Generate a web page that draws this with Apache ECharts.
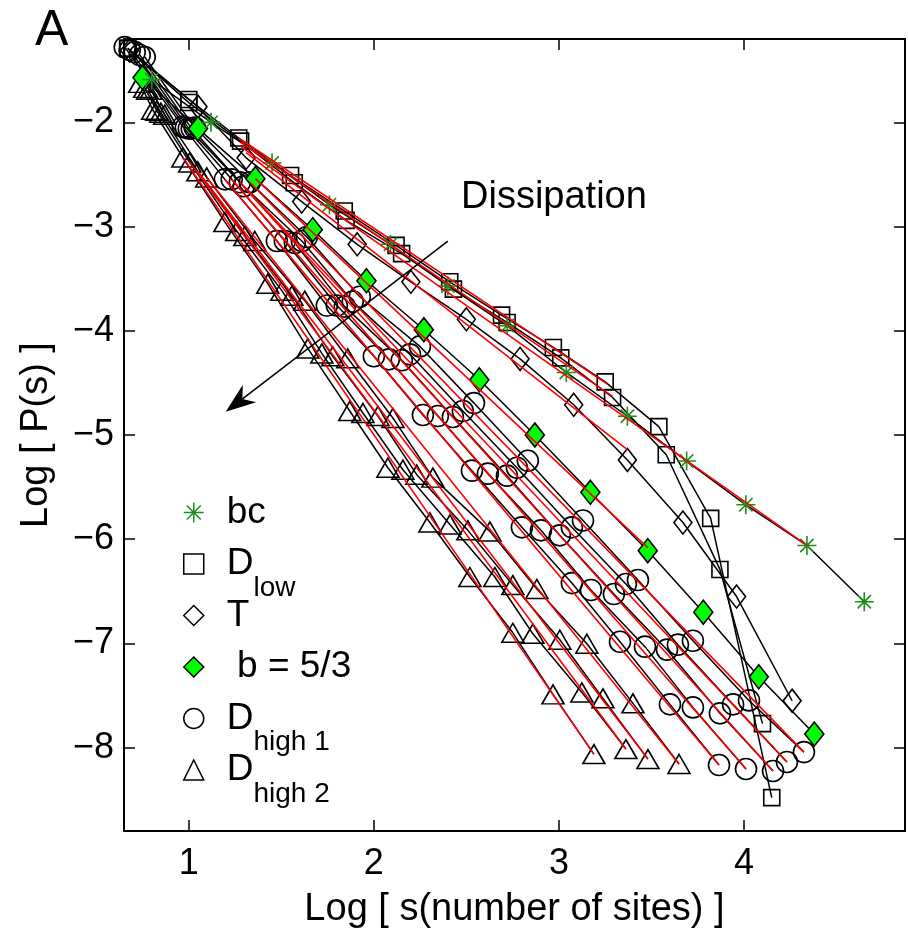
<!DOCTYPE html>
<html>
<head>
<meta charset="utf-8">
<script src="https://cdn.jsdelivr.net/npm/echarts@6/dist/echarts.min.js"></script>
<style>
html,body{margin:0;padding:0;background:#fff;}
#chart{width:908px;height:934px;}
</style>
</head>
<body>
<div id="chart"></div>
<script>
// ---------- data ----------
const xTicks = [1, 2, 3, 4];
const yTicks = [-8, -7, -6, -5, -4, -3, -2];

const bcX = [0.80,1.12,1.45,1.76,2.09,2.40,2.72,3.04,3.37,3.69,4.01,4.34,4.65];
const bcY = [-1.59,-2.00,-2.39,-2.79,-3.17,-3.57,-3.95,-4.40,-4.82,-5.25,-5.67,-6.06,-6.60];

const dLowAX = [0.67,1.00,1.27,1.55,1.84,2.12,2.41,2.69,2.97,3.25,3.54,3.82,4.15];
const dLowAY = [-1.29,-1.78,-2.15,-2.51,-2.85,-3.18,-3.53,-3.85,-4.16,-4.49,-4.92,-5.80,-8.48];
const dLowBX = [0.67,1.00,1.28,1.57,1.85,2.15,2.43,2.72,3.01,3.29,3.58,3.87,4.10];
const dLowBY = [-1.29,-1.81,-2.18,-2.58,-2.94,-3.26,-3.60,-3.92,-4.26,-4.64,-5.19,-6.29,-7.77];

const tLowX = [0.68,1.05,1.31,1.61,1.91,2.20,2.50,2.79,3.08,3.37,3.67,3.96,4.26];
const tLowY = [-1.31,-1.85,-2.34,-2.76,-3.17,-3.53,-3.89,-4.27,-4.71,-5.24,-5.84,-6.55,-7.55];

const b53X = [0.75,1.05,1.36,1.67,1.96,2.27,2.57,2.87,3.17,3.48,3.78,4.08,4.38];
const b53Y = [-1.57,-2.06,-2.54,-3.03,-3.52,-3.99,-4.47,-5.00,-5.55,-6.11,-6.70,-7.32,-7.87];

const c1X = [0.654,0.968,1.195,1.476,1.746,2.000,2.265,2.530,2.800,3.070,3.330,3.600,3.865];
const c1Y = [-1.278,-2.041,-2.547,-3.138,-3.758,-4.245,-4.808,-5.342,-5.886,-6.421,-6.984,-7.585,-8.167];
const c2X = [0.681,0.984,1.232,1.519,1.800,2.081,2.346,2.616,2.903,3.173,3.465,3.724,4.011];
const c2Y = [-1.306,-2.050,-2.547,-3.138,-3.758,-4.274,-4.818,-5.371,-5.915,-6.487,-7.031,-7.614,-8.205];
const c3X = [0.708,1.000,1.276,1.573,1.843,2.151,2.427,2.719,3.005,3.297,3.584,3.870,4.157];
const c3Y = [-1.325,-2.060,-2.575,-3.157,-3.768,-4.283,-4.827,-5.390,-5.963,-6.526,-7.060,-7.671,-8.224];
const c4X = [0.735,1.016,1.297,1.611,1.886,2.195,2.481,2.773,3.070,3.362,3.643,3.941,4.232];
const c4Y = [-1.354,-2.060,-2.613,-3.138,-3.720,-4.226,-4.770,-5.314,-5.886,-6.430,-7.012,-7.585,-8.138];
const c5X = [0.762,1.032,1.330,1.638,1.924,2.249,2.541,2.832,3.130,3.427,3.724,4.027,4.324];
const c5Y = [-1.373,-2.050,-2.575,-3.100,-3.673,-4.150,-4.694,-5.247,-5.820,-6.392,-6.974,-7.547,-8.043];

const t1X = [0.735,0.805,0.968,1.195,1.427,1.643,1.870,2.076,2.303,2.519,2.751,2.968,3.189];
const t1Y = [-1.621,-1.879,-2.337,-2.957,-3.548,-4.169,-4.770,-5.314,-5.839,-6.363,-6.898,-7.489,-8.062];
const t2X = [0.762,0.827,1.005,1.259,1.503,1.719,1.941,2.157,2.411,2.654,2.859,3.124,3.362];
const t2Y = [-1.669,-1.888,-2.384,-3.043,-3.615,-4.217,-4.789,-5.333,-5.858,-6.363,-6.907,-7.470,-8.014];
const t3X = [0.778,0.849,1.049,1.303,1.557,1.778,2.022,2.232,2.508,2.751,3.005,3.238,3.481];
const t3Y = [-1.688,-1.907,-2.470,-3.091,-3.663,-4.245,-4.818,-5.381,-5.915,-6.440,-6.965,-7.527,-8.110];
const t4X = [0.795,0.870,1.097,1.357,1.627,1.859,2.103,2.319,2.627,2.881,3.151,3.400,3.649];
const t4Y = [-1.688,-1.926,-2.528,-3.138,-3.711,-4.264,-4.837,-5.409,-5.925,-6.478,-7.003,-7.575,-8.157];

// red fitted lines: [start, end]
const fitBcX = [1.28, 4.34];   const fitBcY = [-2.23, -6.06];
const fitDaX = [1.27, 3.26];   const fitDaY = [-2.15, -4.51];
const fitDbX = [1.28, 3.29];   const fitDbY = [-2.19, -4.63];
const fitTX  = [1.31, 3.37];   const fitTY  = [-2.29, -5.14];
const fitGX  = [1.36, 3.48];   const fitGY  = [-2.54, -6.08];
const fitC1X = [1.195, 3.865]; const fitC1Y = [-2.547, -8.167];
const fitC2X = [1.232, 4.011]; const fitC2Y = [-2.547, -8.205];
const fitC3X = [1.276, 4.157]; const fitC3Y = [-2.575, -8.224];
const fitC4X = [1.297, 4.232]; const fitC4Y = [-2.613, -8.138];
const fitC5X = [1.330, 4.324]; const fitC5Y = [-2.575, -8.043];
const fitT1X = [0.968, 3.189]; const fitT1Y = [-2.337, -8.062];
const fitT2X = [1.005, 3.362]; const fitT2Y = [-2.384, -8.014];
const fitT3X = [1.049, 3.481]; const fitT3Y = [-2.470, -8.110];
const fitT4X = [1.097, 3.649]; const fitT4Y = [-2.528, -8.157];

// annotation arrow ("Dissipation")
const arrowFrom = [2.40, -3.14];
const arrowTo   = [1.264, -4.69];

// ---------- chart ----------
const FONT = '"Liberation Sans", Arial, Helvetica, sans-serif';
const STAR = 'path://M10,0L10,20M0,10L20,10M3,3L17,17M3,17L17,3';
const ARROW = 'path://M0,0L11,30L0,21L-11,30Z';
const GREEN = '#1f8c1f';
const NONE = 'rgba(0,0,0,0)';

function pts(xs, ys) { return xs.map((x, i) => [x, ys[i]]); }

function dataSeries(name, xs, ys, symbol, size, fill, border) {
  return {
    name: name, type: 'line', data: pts(xs, ys),
    symbol: symbol, symbolSize: size, showSymbol: true, clip: false,
    lineStyle: { color: '#000', width: 1.5 },
    itemStyle: { color: fill, borderColor: border, borderWidth: 1.6 },
    emphasis: { disabled: true }, silent: true, z: 2, animation: false
  };
}
function fitSeries(xs, ys) {
  return {
    name: 'fit', type: 'line', data: pts(xs, ys), symbol: 'none', clip: false,
    lineStyle: { color: '#ff0000', width: 1.6 }, emphasis: { disabled: true },
    silent: true, z: 4, animation: false
  };
}

const series = [
  dataSeries('Dh2', t1X, t1Y, 'triangle', [22, 19], NONE, '#000'),
  dataSeries('Dh2', t2X, t2Y, 'triangle', [22, 19], NONE, '#000'),
  dataSeries('Dh2', t3X, t3Y, 'triangle', [22, 19], NONE, '#000'),
  dataSeries('Dh2', t4X, t4Y, 'triangle', [22, 19], NONE, '#000'),
  dataSeries('Dh1', c1X, c1Y, 'circle', 21, NONE, '#000'),
  dataSeries('Dh1', c2X, c2Y, 'circle', 21, NONE, '#000'),
  dataSeries('Dh1', c3X, c3Y, 'circle', 21, NONE, '#000'),
  dataSeries('Dh1', c4X, c4Y, 'circle', 21, NONE, '#000'),
  dataSeries('Dh1', c5X, c5Y, 'circle', 21, NONE, '#000'),
  dataSeries('Tlow', tLowX, tLowY, 'diamond', [18, 23], NONE, '#000'),
  dataSeries('Dlow', dLowAX, dLowAY, 'rect', 16, NONE, '#000'),
  dataSeries('Dlow', dLowBX, dLowBY, 'rect', 16, NONE, '#000'),
  dataSeries('b53', b53X, b53Y, 'diamond', [19, 24], '#00ff00', '#000'),
  dataSeries('bc', bcX, bcY, STAR, 19, NONE, GREEN),
  fitSeries(fitBcX, fitBcY), fitSeries(fitDaX, fitDaY), fitSeries(fitDbX, fitDbY),
  fitSeries(fitTX, fitTY), fitSeries(fitGX, fitGY),
  fitSeries(fitC1X, fitC1Y), fitSeries(fitC2X, fitC2Y), fitSeries(fitC3X, fitC3Y),
  fitSeries(fitC4X, fitC4Y), fitSeries(fitC5X, fitC5Y),
  fitSeries(fitT1X, fitT1Y), fitSeries(fitT2X, fitT2Y), fitSeries(fitT3X, fitT3Y),
  fitSeries(fitT4X, fitT4Y),
  {
    name: 'arrow', type: 'line', data: [], silent: true, z: 5,
    markLine: {
      silent: true, animation: false,
      symbol: ['none', ARROW], symbolSize: [22, 30],
      lineStyle: { color: '#000', width: 1.5, type: 'solid' },
      label: { show: false }, emphasis: { disabled: true },
      data: [[{ coord: arrowFrom }, { coord: arrowTo }]]
    }
  }
];

const legendLabels = {
  bc: ['bc', ''], Dlow: ['D', 'low'], Tlow: ['T', ''],
  b53: [' b = 5/3', ''], Dh1: ['D', 'high 1'], Dh2: ['D', 'high 2']
};

const axisCommon = {
  type: 'value', splitLine: { show: false },
  axisLine: { show: true, onZero: false, lineStyle: { color: '#000', width: 2 } }
};

const option = {
  animation: false,
  backgroundColor: '#fff',
  textStyle: { fontFamily: FONT },
  grid: { left: 124, top: 39, width: 781, height: 796, containLabel: false },
  xAxis: [
    Object.assign({}, axisCommon, {
      min: 0.65, max: 4.87, position: 'bottom',
      axisTick: { show: true, inside: true, length: 11, customValues: xTicks, lineStyle: { color: '#000', width: 1.5 } },
      axisLabel: { show: true, customValues: xTicks, fontSize: 36, color: '#000', margin: 15, fontFamily: FONT },
      name: 'Log [ s(number of sites) ]', nameLocation: 'middle', nameGap: 60,
      nameTextStyle: { fontSize: 38, color: '#000', fontFamily: FONT, verticalAlign: 'top' }
    }),
    Object.assign({}, axisCommon, {
      min: 0.65, max: 4.87, position: 'top',
      axisTick: { show: true, inside: true, length: 11, customValues: xTicks, lineStyle: { color: '#000', width: 1.5 } },
      axisLabel: { show: false }
    })
  ],
  yAxis: [
    Object.assign({}, axisCommon, {
      min: -8.8, max: -1.2, position: 'left',
      axisTick: { show: true, inside: true, length: 11, customValues: yTicks, lineStyle: { color: '#000', width: 1.5 } },
      axisLabel: { show: true, customValues: yTicks, fontSize: 36, color: '#000', margin: 10, fontFamily: FONT,
        formatter: v => '\u2212' + Math.abs(v) },
      name: 'Log [ P(s) ]', nameLocation: 'middle', nameGap: 68,
      nameTextStyle: { fontSize: 38, color: '#000', fontFamily: FONT }
    }),
    Object.assign({}, axisCommon, {
      min: -8.8, max: -1.2, position: 'right',
      axisTick: { show: true, inside: true, length: 11, customValues: yTicks, lineStyle: { color: '#000', width: 1.5 } },
      axisLabel: { show: false }
    })
  ],
  legend: {
    orient: 'vertical', left: 178, top: 489, itemWidth: 20, itemHeight: 20, itemGap: -5,
    selectedMode: false,
    data: [
      { name: 'bc', icon: STAR, itemStyle: { color: NONE, borderColor: GREEN, borderWidth: 1.5 } },
      { name: 'Dlow', icon: 'rect', itemStyle: { color: NONE, borderColor: '#000', borderWidth: 1.5 } },
      { name: 'Tlow', icon: 'diamond', itemStyle: { color: NONE, borderColor: '#000', borderWidth: 1.5 } },
      { name: 'b53', icon: 'diamond', itemStyle: { color: '#00ff00', borderColor: '#000', borderWidth: 1.5 } },
      { name: 'Dh1', icon: 'circle', itemStyle: { color: NONE, borderColor: '#000', borderWidth: 1.5 } },
      { name: 'Dh2', icon: 'triangle', itemStyle: { color: NONE, borderColor: '#000', borderWidth: 1.5 } }
    ],
    formatter: function (name) {
      const l = legendLabels[name];
      return '{m|' + l[0] + '}{s|' + (l[1] || '\u00a0') + '}';
    },
    textStyle: {
      fontFamily: FONT, color: '#000',
      rich: {
        m: { fontSize: 37, fontFamily: FONT, color: '#000', padding: [0, 0, 0, 18] },
        s: { fontSize: 28, fontFamily: FONT, color: '#000', padding: [48, 0, 0, 0] }
      }
    }
  },
  graphic: [
    { type: 'text', left: 35, top: 6, silent: true,
      style: { text: 'A', fontSize: 50, fontFamily: FONT, fill: '#000' } },
    { type: 'text', left: 461, top: 179, silent: true,
      style: { text: 'Dissipation', fontSize: 38, fontFamily: FONT, fill: '#000' } }
  ],
  series: series
};

const chart = echarts.init(document.getElementById('chart'), null, { renderer: 'canvas' });
chart.setOption(option);
</script>
</body>
</html>
